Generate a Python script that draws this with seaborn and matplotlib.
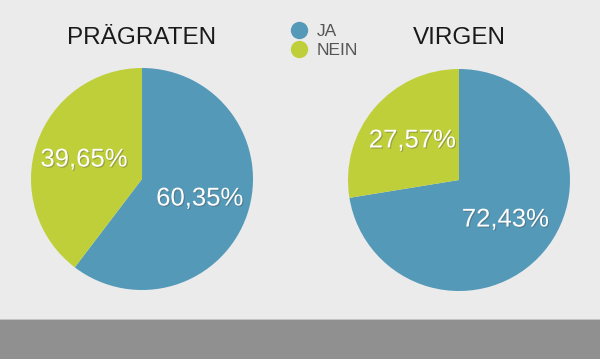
# coding: utf-8
import numpy as np
import matplotlib
matplotlib.use('Agg')
import matplotlib.pyplot as plt
import matplotlib.patheffects as pe
from matplotlib.lines import Line2D
from matplotlib.patches import Rectangle
import seaborn as sns

# data
towns = ['PRÄGRATEN', 'VIRGEN']
answers = ['JA', 'NEIN']
ja_share = [60.35, 72.43]
nein_share = [39.65, 27.57]

colors = ['#5599b9', '#bfcf3a']

sns.set_theme(style='white', rc={'figure.facecolor': '#ebebeb',
                                 'axes.facecolor': '#ebebeb'})
plt.rcParams['font.family'] = ['Liberation Sans', 'DejaVu Sans']

fig = plt.figure(figsize=(6, 3.59), dpi=100)

W, H = 600, 359
r = 111
centers = [(142, 179), (459, 180)]

shadow = [pe.SimplePatchShadow(offset=(0.8, -0.8), alpha=0.35), pe.Normal()]

for town, ja, nein, (cx, cy) in zip(towns, ja_share, nein_share, centers):
    ax = fig.add_axes([(cx - r) / W, (H - cy - r) / H, 2 * r / W, 2 * r / H])
    wedges, texts = ax.pie([ja, nein], colors=colors, startangle=90, counterclock=False,
                           labels=[f'{v:.2f}%'.replace('.', ',') for v in (ja, nein)],
                           labeldistance=0.55,
                           textprops=dict(color='white', fontsize=18.5, ha='center', va='center'),
                           wedgeprops=dict(linewidth=0, antialiased=True))
    for t in texts:
        t.set_path_effects(shadow)
    ax.set_xlim(-1, 1)
    ax.set_ylim(-1, 1)
    ax.axis('off')
    fig.text(cx / W, 1 - 38 / H, town, ha='center', va='center',
             fontsize=17.5, color='#1a1a1a')

# legend
handles = [Line2D([], [], marker='o', linestyle='None', markersize=12.5,
                  markerfacecolor=c, markeredgewidth=0) for c in colors]
fig.legend(handles, answers, loc='center left', bbox_to_anchor=(282 / W, 1 - 41 / H),
           frameon=False, fontsize=12.5, labelcolor='#555555', handletextpad=0.5,
           labelspacing=0.25, borderpad=0, handlelength=1.0)

# bottom band
fig.add_artist(Rectangle((0, 0), 1, 40 / H, transform=fig.transFigure,
                         facecolor='#909090', edgecolor='none'))
fig.add_artist(Rectangle((0, 39 / H), 1, 1.2 / H, transform=fig.transFigure,
                         facecolor='#c4c4c4', edgecolor='none'))

fig.savefig('out.png', dpi=100, facecolor=fig.get_facecolor())
